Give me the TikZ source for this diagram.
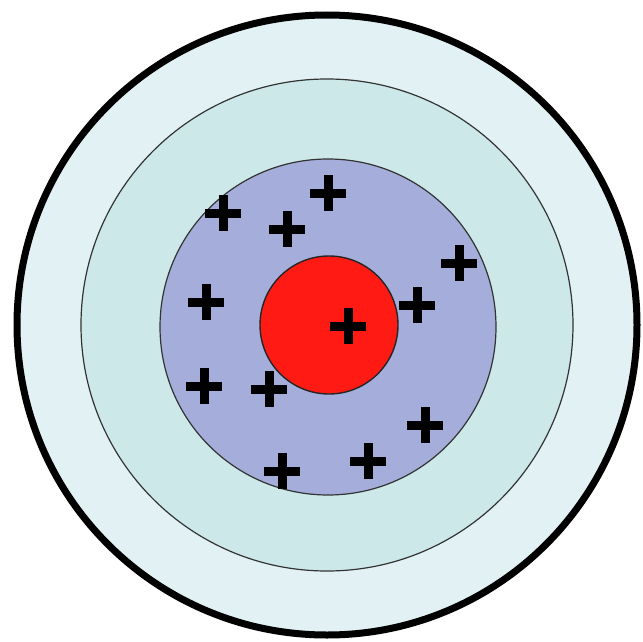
\documentclass[tikz,border=0pt]{standalone}
\usepackage{tikz}
\usetikzlibrary{positioning}
\usepackage{xcolor}
\definecolor{ringOuter}{HTML}{E2F2F4}
\definecolor{ringMiddle}{HTML}{CCE8E8}
\definecolor{ringInner}{HTML}{A5ADDB}
\definecolor{bullRed}{HTML}{FF1A14}

\begin{document}
\begin{tikzpicture}[
    x=1pt, y=-1pt,
    outerRing/.style={draw=black, fill=ringOuter, line width=7pt},
    ringLine/.style={draw=black!80, line width=1.2pt},
    bullEye/.style={draw=black!85, fill=bullRed, line width=1.4pt},
    plusMark/.style={draw=black, line width=9pt}
]
    \useasboundingbox (0,0) rectangle (643,642);

    \coordinate (centre) at (327,325);
    \fill[white] (0,0) rectangle (643,642);

    \draw[outerRing] (centre) circle[radius=310];
    \draw[ringLine, fill=ringMiddle] (centre) circle[radius=246];
    \draw[ringLine, fill=ringInner] (328,327) circle[radius=168];
    \draw[bullEye] (329,325) circle[radius=69];

    % shots on the target
    \foreach \px/\py in {223/213, 328/193, 287/229, 459/263, 206/302, 417/305,
                         348/326, 204/386, 269/389, 425/425, 368/461, 282/471} {
        \draw[plusMark] (\px-18,\py) -- (\px+18,\py);
        \draw[plusMark] (\px,\py-18) -- (\px,\py+18);
    }
\end{tikzpicture}
\end{document}
